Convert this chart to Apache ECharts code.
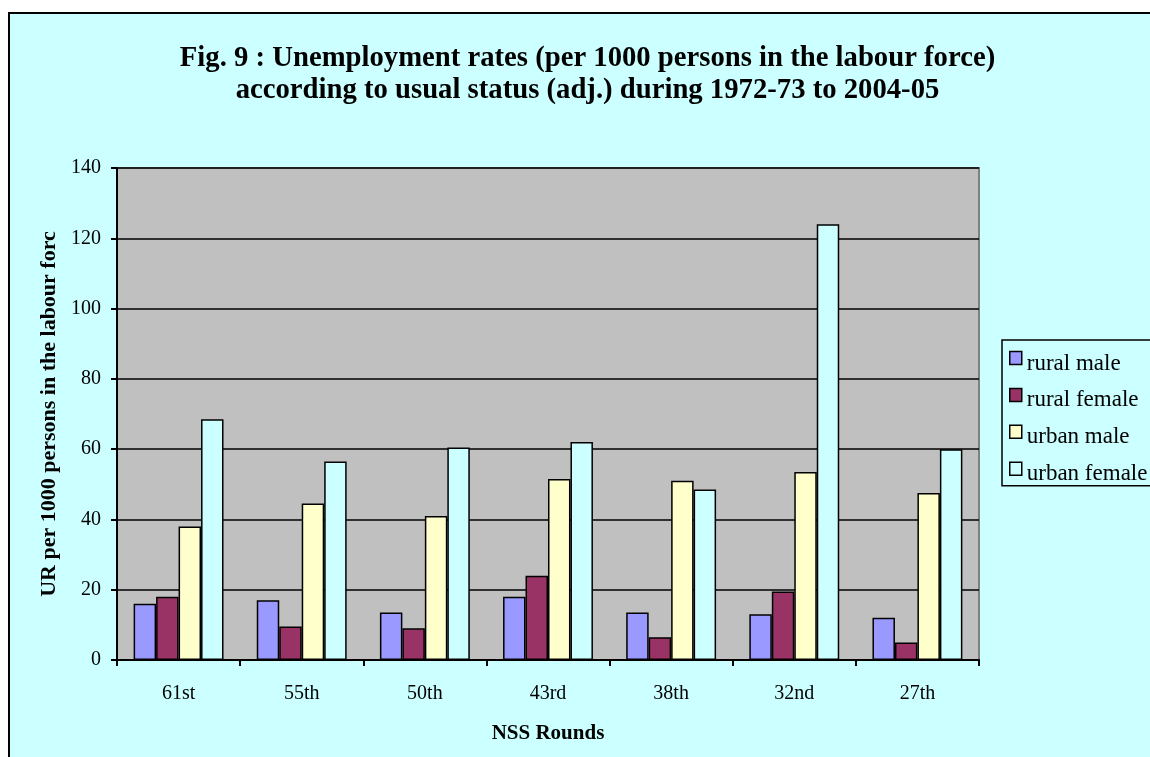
<!DOCTYPE html>
<html>
<head>
<meta charset="utf-8">
<script src="https://cdn.jsdelivr.net/npm/echarts@6/dist/echarts.min.js"></script>
<style>
  html, body { margin: 0; padding: 0; width: 1150px; height: 757px; overflow: hidden; background: #ffffff; }
  #frame { position: absolute; left: 8px; top: 12px; width: 1155px; height: 760px; border: 2px solid #000; background: #CCFFFF; }
  #chart { width: 1155px; height: 760px; }
</style>
</head>
<body>
<div id="frame"><div id="chart"></div></div>
<script>
const categories = ['61st', '55th', '50th', '43rd', '38th', '32nd', '27th'];
const ruralMale = [16, 17, 13.5, 18, 13.5, 13, 12];
const ruralFemale = [18, 9.5, 9, 24, 6.5, 19.5, 5];
const urbanMale = [38, 44.5, 41, 51.5, 51, 53.5, 47.5];
const urbanFemale = [68.5, 56.5, 60.5, 62, 48.5, 124, 60];
const seriesNames = ['rural male', 'rural female', 'urban male', 'urban female'];
const yTicks = { min: 0, max: 140, interval: 20 };

const FONT = "'Liberation Serif', 'Times New Roman', serif";
const colors = ['#9999FF', '#993366', '#FFFFCC', '#CCFFFF'];
const seriesData = [ruralMale, ruralFemale, urbanMale, urbanFemale];

const chart = echarts.init(document.getElementById('chart'), null, { renderer: 'canvas' });
chart.setOption({
  animation: false,
  backgroundColor: '#CCFFFF',
  textStyle: { fontFamily: FONT },
  title: {
    text: 'Fig. 9 : Unemployment rates (per 1000 persons in the labour force)\naccording to usual status (adj.) during 1972-73 to 2004-05',
    left: 'center',
    top: 24,
    textStyle: { fontFamily: FONT, fontWeight: 'bold', fontSize: 28.7, lineHeight: 32, color: '#000' }
  },
  legend: {
    orient: 'vertical',
    left: 992,
    top: 326,
    padding: [1, 6, 0, 7],
    itemWidth: 12,
    itemHeight: 13,
    itemGap: 2.9,
    icon: 'rect',
    backgroundColor: '#CCFFFF',
    borderColor: '#000',
    borderWidth: 1.5,
    borderRadius: 0,
    data: seriesNames,
    itemStyle: { borderColor: '#000', borderWidth: 1.5 },
    formatter: '{t|{name}}',
    textStyle: {
      fontFamily: FONT, fontSize: 23, color: '#000',
      rich: { t: { fontFamily: FONT, fontSize: 23, color: '#000', lineHeight: 15, padding: [11, 0, 0, 0] } }
    }
  },
  grid: {
    left: 107, top: 154, width: 862, height: 492,
    show: true, backgroundColor: '#C0C0C0', borderColor: '#808080', borderWidth: 2
  },
  xAxis: {
    type: 'category',
    data: categories,
    name: 'NSS Rounds',
    nameLocation: 'middle',
    nameGap: 63,
    nameTextStyle: { fontFamily: FONT, fontWeight: 'bold', fontSize: 21, color: '#000' },
    axisLine: { show: true, lineStyle: { color: '#000', width: 2 } },
    axisTick: { show: true, length: 6, lineStyle: { color: '#000', width: 2 } },
    axisLabel: { fontFamily: FONT, fontSize: 20, color: '#000', margin: 24 },
    splitLine: { show: false }
  },
  yAxis: {
    type: 'value',
    min: yTicks.min, max: yTicks.max, interval: yTicks.interval,
    name: 'UR per 1000 persons in the labour force',
    nameLocation: 'middle',
    nameGap: 50,
    nameRotate: 90,
    nameTruncate: { maxWidth: 371, ellipsis: '' },
    nameTextStyle: { fontFamily: FONT, fontWeight: 'bold', fontSize: 22, color: '#000' },
    axisLine: { show: true, lineStyle: { color: '#000', width: 2 } },
    axisTick: { show: true, length: 6, lineStyle: { color: '#000', width: 2 } },
    axisLabel: { fontFamily: FONT, fontSize: 20, color: '#000', margin: 16 },
    splitLine: { show: true, lineStyle: { color: '#000', width: 1.5 } }
  },
  series: seriesNames.map((n, i) => ({
    name: n,
    type: 'bar',
    data: seriesData[i],
    barGap: '0%',
    barCategoryGap: '27%',
    itemStyle: { color: colors[i], borderColor: '#000', borderWidth: 1.5 }
  }))
});
</script>
</body>
</html>
